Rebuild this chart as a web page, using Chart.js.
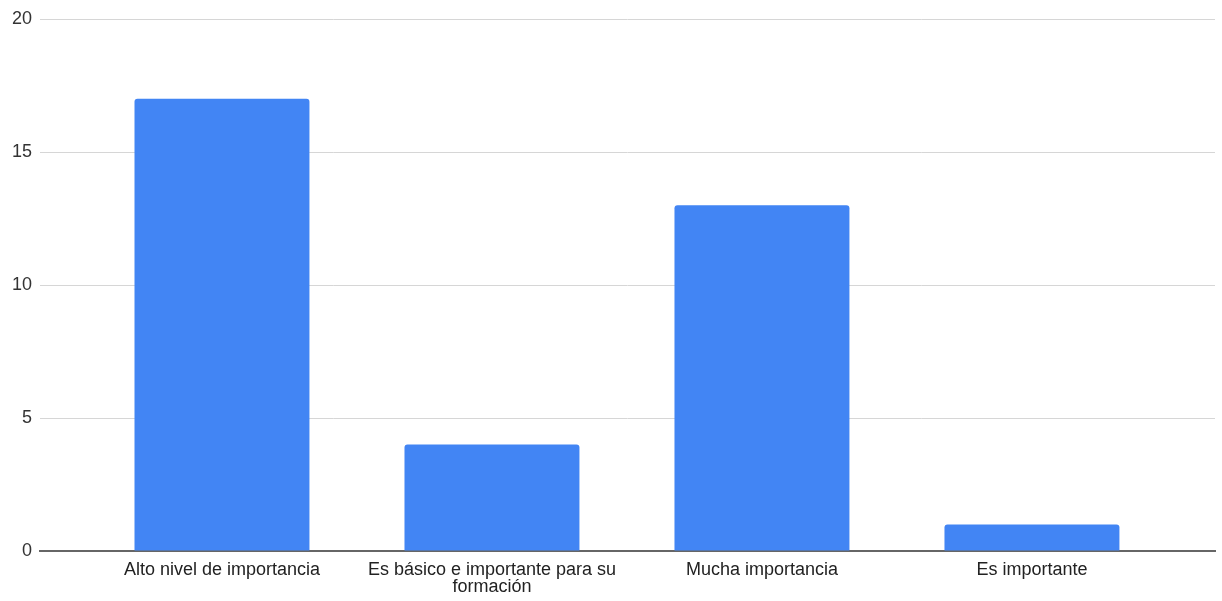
<!DOCTYPE html>
<html lang="es">
<head>
<meta charset="UTF-8" />
<title>Importancia</title>
<style>
  html, body { margin: 0; padding: 0; background: #fff; }
  #wrap { width: 1222px; height: 601px; position: relative; }
</style>
</head>
<body>
  <div id="wrap"><canvas id="chart"></canvas></div>
  <script src="https://cdn.jsdelivr.net/npm/chart.js"></script>
  <script>
    const categories = [
      'Alto nivel de importancia',
      ['Es básico e importante para su', 'formación'],
      'Mucha importancia',
      'Es importante'
    ];
    const counts = [17, 4, 13, 1];
    const yTicks = [0, 5, 10, 15, 20];

    // bars sit on a linear x scale so the categories can be inset from the plot edges
    const points = counts.map((v, i) => ({ x: i, y: v }));
    const font = { family: '"Liberation Sans", Arial, sans-serif', size: 18, lineHeight: 0.92 };

    const ctx = document.getElementById('chart').getContext('2d');
    new Chart(ctx, {
      type: 'bar',
      data: {
        datasets: [{
          data: points,
          backgroundColor: '#4285F4',
          borderRadius: { topLeft: 3, topRight: 3 },
          borderSkipped: 'bottom',
          categoryPercentage: 1,
          barPercentage: 0.648
        }]
      },
      options: {
        responsive: true,
        maintainAspectRatio: false,
        animation: false,
        layout: { padding: { top: 19, right: 7, left: 0, bottom: 0 } },
        plugins: { legend: { display: false }, tooltip: { enabled: false } },
        scales: {
          x: {
            type: 'linear',
            offset: false,
            min: -0.674,
            max: 3.678,
            afterBuildTicks: scale => { scale.ticks = categories.map((c, i) => ({ value: i })); },
            grid: { display: false },
            border: { display: true, color: '#666666', width: 2 },
            ticks: {
              color: '#222222',
              font: font,
              padding: 3,
              maxRotation: 0,
              autoSkip: false,
              callback: v => categories[v]
            },
            afterFit: scale => { scale.height = 50; }
          },
          y: {
            min: yTicks[0],
            max: yTicks[yTicks.length - 1],
            afterBuildTicks: scale => { scale.ticks = yTicks.map(v => ({ value: v })); },
            grid: {
              color: c => c.tick.value === 0 ? 'rgba(0,0,0,0)' : '#d6d6d6',
              drawTicks: false
            },
            border: { display: false },
            ticks: {
              color: '#333333',
              font: { family: '"Liberation Sans", Arial, sans-serif', size: 18 },
              padding: 8
            },
            afterFit: scale => { scale.width = 40; }
          }
        }
      }
    });
  </script>
</body>
</html>
